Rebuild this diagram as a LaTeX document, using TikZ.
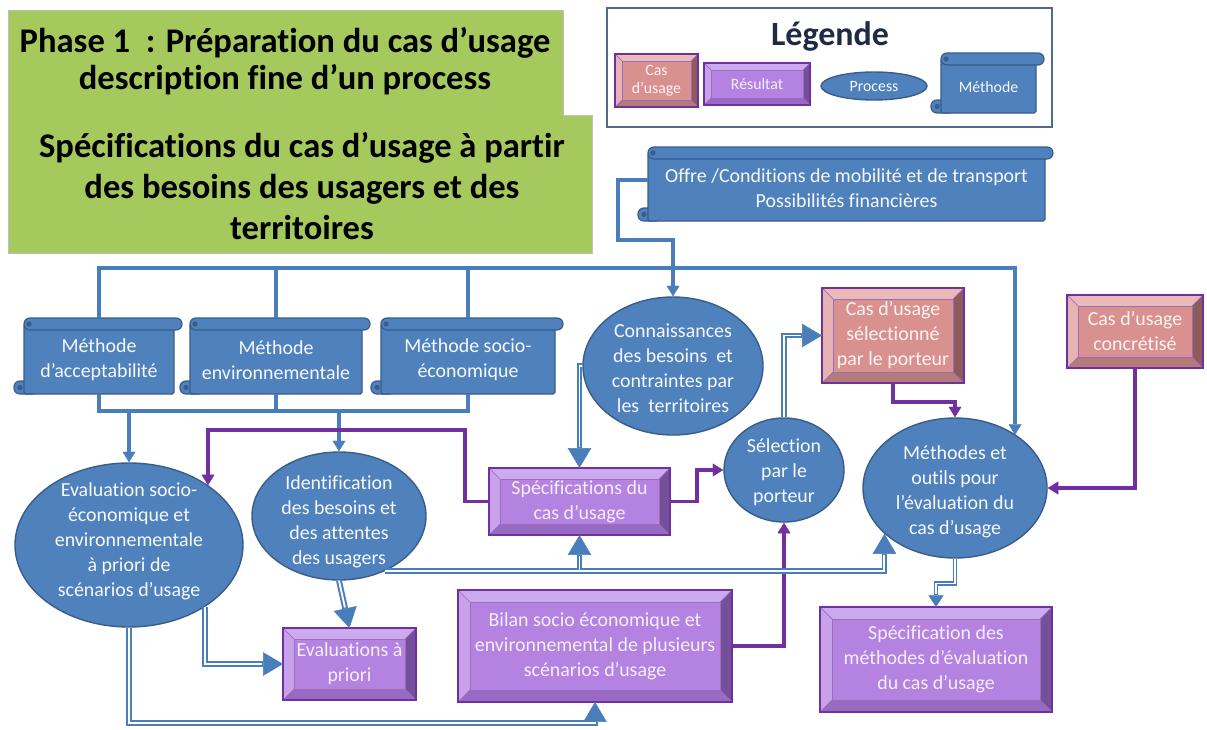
\documentclass[tikz,border=0pt]{standalone}
\usepackage{fontspec}
\setmainfont{Carlito}[Ligatures=NoCommon]
\usetikzlibrary{shapes.geometric,arrows.meta}

% palette
\definecolor{procfill}{HTML}{4F81BD}
\definecolor{procedge}{HTML}{385D8A}
\definecolor{linkblue}{HTML}{4A7EBB}
\definecolor{linkviolet}{HTML}{7030A0}
\definecolor{titlegreen}{HTML}{A5C95C}
\definecolor{legendedge}{HTML}{4F6A8A}
\definecolor{legendink}{HTML}{1F2A44}
\definecolor{inkwhite}{HTML}{F7F9FC}
\definecolor{inklilac}{HTML}{F6EEFC}
\definecolor{inkrose}{HTML}{FFF4F4}
% violet bevel faces
\definecolor{vltface}{HTML}{B482E0}
\definecolor{vlttop}{HTML}{CDA9EF}
\definecolor{vltleft}{HTML}{C7A1EA}
\definecolor{vltbot}{HTML}{996AC3}
\definecolor{vltright}{HTML}{74509A}
% rose bevel faces
\definecolor{rseface}{HTML}{D8918F}
\definecolor{rsetop}{HTML}{EBB9B8}
\definecolor{rseleft}{HTML}{E6B3B2}
\definecolor{rsebot}{HTML}{B57B7A}
\definecolor{rseright}{HTML}{8C5B5A}

% one drawing unit
\newcommand{\pxu}{0.03cm}

\tikzset{
  bodytext/.style={font=\fontsize{17}{21.3}\selectfont, align=center, text=inkwhite, inner sep=0pt},
  legtext/.style={font=\fontsize{13.5}{15.5}\selectfont, align=center, text=inkwhite, inner sep=0pt},
  lilactext/.style={bodytext, text=inklilac},
  rosetext/.style={bodytext, text=inkrose},
  leglilac/.style={legtext, text=inklilac},
  legrose/.style={legtext, text=inkrose},
  titletext/.style={font=\fontsize{29.5}{31.6}\selectfont\bfseries, align=center, text=black, inner sep=0pt},
  process/.style={ellipse, draw=procedge, line width=1.2pt, fill=procfill, inner sep=0pt},
  frame/.style={rectangle, inner sep=0pt, outer sep=0pt, draw=none},
  scrollpart/.style={fill=procfill, draw=procedge, line width=1pt},
  bline/.style={draw=linkblue, line width=3.4pt},
  barrow/.style={bline, -{Triangle[width=11pt,length=9pt,line width=0.4pt]}},
  parrow/.style={draw=linkviolet, line width=2.8pt, -{Triangle[width=11pt,length=9pt,line width=0.4pt]}},
  dblout/.style={draw=linkblue, line width=5pt, -{Triangle[width=20pt,length=17pt,line width=0.4pt]}},
  dblin/.style={draw=white, line width=1.6pt, shorten >=18pt},
  dblouts/.style={draw=linkblue, line width=4pt, -{Triangle[width=13pt,length=10pt,line width=0.4pt]}},
  dblins/.style={draw=white, line width=1.3pt, shorten >=11pt},
}

% scroll-shaped method box: name, left, top, right, bottom, text style, text
\newcommand{\scrollnode}[7]{%
  \filldraw[scrollpart, rounded corners=5pt] ({#2-10},{#5-13}) rectangle ({#2+14},#5);
  \filldraw[scrollpart, rounded corners=1.5pt] (#2,{#3+6}) rectangle (#4,#5);
  \filldraw[scrollpart, rounded corners=5pt] (#2,#3) rectangle ({#4+8},{#3+12});
  \fill[procedge] ({#2+5},{#3+6}) circle[radius=2.2pt];
  \fill[procedge] ({#2-4},{#5-6.5}) circle[radius=2.2pt];
  \node[frame, minimum width={(#4-#2)*\pxu}, minimum height={(#5-#3)*\pxu}] (#1) at ({(#2+#4)/2},{(#3+#5)/2}) {};
  \node[#6] (#1T) at ({(#2+#4)/2},{(#3+#5)/2+4}) {#7};
}

% bevelled box: palette, name, x1, y1, x2, y2, bevel, text style, text
\newcommand{\bevelnode}[9]{%
  \fill[#1top] (#3,#4) -- (#5,#4) -- ({#5-#7},{#4+#7}) -- ({#3+#7},{#4+#7}) -- cycle;
  \fill[#1left] (#3,#4) -- ({#3+#7},{#4+#7}) -- ({#3+#7},{#6-#7}) -- (#3,#6) -- cycle;
  \fill[#1bot] (#3,#6) -- ({#3+#7},{#6-#7}) -- ({#5-#7},{#6-#7}) -- (#5,#6) -- cycle;
  \fill[#1right] (#5,#4) -- (#5,#6) -- ({#5-#7},{#6-#7}) -- ({#5-#7},{#4+#7}) -- cycle;
  \filldraw[fill=#1face, draw=linkviolet!70, line width=0.6pt] ({#3+#7},{#4+#7}) rectangle ({#5-#7},{#6-#7});
  \draw[linkviolet!70, line width=0.6pt] (#3,#4) -- ({#3+#7},{#4+#7}) (#5,#4) -- ({#5-#7},{#4+#7})
        (#3,#6) -- ({#3+#7},{#6-#7}) (#5,#6) -- ({#5-#7},{#6-#7});
  \node[frame, draw=linkviolet, line width=2pt, minimum width={(#5-#3)*\pxu}, minimum height={(#6-#4)*\pxu}] (#2) at ({(#3+#5)/2},{(#4+#6)/2}) {};
  \node[#8] (#2T) at ({(#3+#5)/2},{(#4+#6)/2}) {#9};
}

% double (hollow) connector
\newcommand{\dconn}[1]{\draw[dblout] #1; \draw[dblin] #1;}
\newcommand{\dconnsmall}[1]{\draw[dblouts] #1; \draw[dblins] #1;}

\begin{document}
\begin{tikzpicture}[x=0.03cm, y=-0.03cm]
\useasboundingbox (0,0) rectangle (1207,729);
\fill[white] (0,0) rectangle (1207,729);

% ---- title panel
\filldraw[fill=titlegreen, draw=black!25, line width=0.6pt]
  (8,10) -- (563,10) -- (563,115) -- (592,115) -- (592,253) -- (8,253) -- cycle;
\node[titletext] (phase) at (285,61.5) {Phase 1~ : Préparation du cas d’usage\\description fine d’un process};
\node[titletext, font=\fontsize{29.5}{35}\selectfont\bfseries] (scopeTitle) at (302,186)
  {Spécifications du cas d’usage à partir\\des besoins des usagers et des\\territoires};

% ---- legend
\node[frame, draw=legendedge, line width=2pt, fill=white, minimum width={445*\pxu}, minimum height={119*\pxu}] (legend) at (829.5,67.5) {};
\node[font=\fontsize{29}{32}\selectfont\bfseries, text=legendink, inner sep=0pt] (legendT) at (830,36) {Légende};
\bevelnode{rse}{legCas}{615}{54}{698}{107}{7}{legrose}{Cas\\d’usage}
\bevelnode{vlt}{legRes}{704}{63}{810}{105}{7}{leglilac}{Résultat}
\node[process, minimum width={106*\pxu}, minimum height={28*\pxu}] (legProc) at (874,86) {};
\node[legtext] (legProcT) at (874,86) {Process};
\scrollnode{legMeth}{941}{53}{1036}{113}{legtext}{Méthode}

% ---- methods
\scrollnode{offre}{648}{147}{1045}{221}{bodytext}{Offre /Conditions de mobilité et de transport\\Possibilités financières}
\scrollnode{m1}{24}{318}{174}{394}{bodytext}{Méthode\\d’acceptabilité}
\scrollnode{m2}{190}{318}{362}{394}{bodytext}{Méthode\\environnementale}
\scrollnode{m3}{381}{318}{555}{394}{bodytext}{Méthode socio-\\économique}

% ---- processes
\node[process, minimum width={228*\pxu}, minimum height={164*\pxu}] (eval) at (129,545) {};
\node[bodytext] (evalT) at (129,541) {Evaluation socio-\\économique et\\environnementale\\à priori de\\scénarios d’usage};
\node[process, minimum width={174*\pxu}, minimum height={128*\pxu}] (ident) at (339,516) {};
\node[bodytext] (identT) at (339,521.5) {Identification\\des besoins et\\des attentes\\des usagers};
\node[process, minimum width={180*\pxu}, minimum height={138*\pxu}] (conn) at (673,366) {};
\node[bodytext] (connT) at (673,368.5) {Connaissances\\des besoins~ et\\contraintes par\\les~ territoires};
\node[process, minimum width={120*\pxu}, minimum height={104*\pxu}] (sel) at (784,470) {};
\node[bodytext] (selT) at (784,472) {Sélection\\par le\\porteur};
\node[process, minimum width={184*\pxu}, minimum height={140*\pxu}] (meth) at (955,488) {};
\node[bodytext] (methT) at (955,491.5) {Méthodes et\\outils pour\\l’évaluation du\\cas d’usage};

% ---- results and use cases
\bevelnode{vlt}{spec}{489}{468}{670}{535}{11}{lilactext}{Spécifications du\\cas d’usage}
\bevelnode{vlt}{evpri}{283}{628}{416}{700}{11}{lilactext}{Evaluations à\\priori}
\bevelnode{vlt}{bilan}{458}{590}{732}{702}{12}{lilactext}{Bilan socio économique et\\environnemental de plusieurs\\scénarios d’usage}
\bevelnode{rse}{cassel}{822}{288}{964}{383}{11}{rosetext}{Cas d’usage\\sélectionné\\par le porteur}
\bevelnode{rse}{casconc}{1067}{295}{1203}{368}{11}{rosetext}{Cas d’usage\\concrétisé}
\bevelnode{vlt}{specm}{820}{607}{1052}{712}{12}{lilactext}{Spécification des\\méthodes d’évaluation\\du cas d’usage}

% ---- blue method links
\coordinate (offA) at (618,180);
\coordinate (offB) at (673,240);
\coordinate (busR) at (1015,268);
\coordinate (busL) at (276,411);
\draw[bline] (m2.north) -- (m2.north |- busR);
\draw[bline] (m3.north) -- (m3.north |- busR);
\draw[barrow] (m1.north) |- (busR) -- (busR |- meth.41);
\draw[barrow] (offre.west |- offA) -- (offA) |- (offB) -- (conn.north);
\draw[bline] (m1.south) |- (busL) -| (m3.south);
\draw[bline] (m2.south) -- (m2.south |- busL);
\draw[barrow] (eval.north |- busL) -- (eval.north);
\draw[barrow] (ident.north |- busL) -- (ident.north);

% ---- violet links
\coordinate (vA) at (465,430);
\coordinate (vB) at (208,430);
\draw[parrow] (spec.west) -| (vA) -- (vB) -- (vB |- eval.37);
\draw[parrow] (spec.east) -- ++(27,0) |- (sel.west);
\draw[parrow] (bilan.east) -| (sel.south);
\draw[parrow] (cassel.south) -- ++(0,19) -| (meth.north);
\draw[parrow] (casconc.south) |- (meth.east);

% ---- hollow links
\coordinate (dbB) at (595,723);
\dconn{(conn.west) -| (spec.north)}
\dconn{(sel.north) |- (cassel.west)}
\dconn{(ident.south) -- (evpri.north)}
\dconn{(eval.-39) |- (evpri.west)}
\dconn{(eval.south) |- (dbB) -- (bilan.south)}
\draw[dblout] (ident.-50) -| (meth.-147);
\draw[dblout] (spec.south |- ident.-50) -- (spec.south);
\draw[dblin] (ident.-50) -| (meth.-147);
\draw[dblin] (spec.south |- ident.-50) -- (spec.south);
\dconnsmall{(meth.south) -- ++(0,25) -| (specm.north)}
\end{tikzpicture}
\end{document}
